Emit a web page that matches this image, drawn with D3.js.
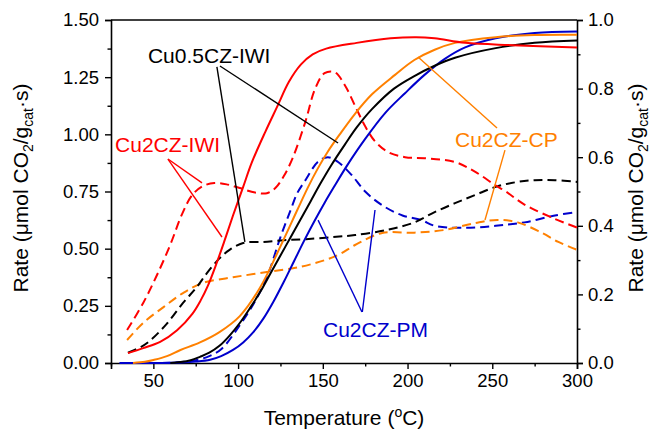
<!DOCTYPE html>
<html>
<head>
<meta charset="utf-8">
<script src="https://cdn.jsdelivr.net/npm/d3@7/dist/d3.min.js"></script>
<style>
  html, body { margin: 0; padding: 0; background: #fff; }
  svg { display: block; }
  text { font-family: "Liberation Sans", Arial, Helvetica, sans-serif; }
</style>
</head>
<body>
<svg id="chart" width="654" height="431"></svg>
<script>
// Temperature (°C) vs. rate; solid curves on the left axis, dashed curves on the right axis.

// Cu2CZ-IWI, solid (left axis, µmol CO2/gcat·s)
const cu2IwiSolid = [
  [35,0.043],[44,0.065],[54,0.092],[64,0.143],[73,0.215],[78,0.275],[82,0.335],[87,0.43],[92,0.535],
  [97,0.645],[103,0.77],[108,0.875],[116,1.01],[123,1.12],[130,1.23],[137,1.305],[144,1.35],
  [152,1.375],[170,1.40],[190,1.42],[205,1.425],[216,1.42],[234,1.40],[262,1.39],[300,1.38]
];
// Cu2CZ-IWI, dashed (right axis)
const cu2IwiDashed = [
  [34.5,0.096],[44,0.175],[52,0.255],[60,0.345],[67,0.435],[73,0.49],[79,0.515],[86,0.525],
  [94,0.52],[101,0.51],[110,0.497],[117,0.495],[122,0.51],[127,0.545],[132,0.595],[139.5,0.70],
  [145.5,0.80],[151,0.845],[157,0.848],[163,0.81],[169,0.75],[175,0.69],[181,0.645],[188.5,0.615],
  [198.5,0.60],[210,0.597],[228,0.586],[240,0.557],[251.6,0.519],[258,0.50],[269,0.462],[287,0.42],[300,0.395]
];
// Cu0.5CZ-IWI, solid (left axis)
const cu05IwiSolid = [
  [60,0],[66,0.004],[72,0.012],[77.5,0.027],[83,0.045],[89,0.075],[95,0.12],[101,0.175],[107,0.24],
  [113,0.31],[119,0.39],[125,0.47],[131,0.55],[137,0.63],[143,0.71],[149,0.79],[155,0.865],
  [163,0.955],[170,1.03],[179,1.11],[192,1.20],[204,1.255],[216,1.30],[228,1.335],[252,1.377],[275,1.40],[300,1.41]
];
// Cu0.5CZ-IWI, dashed (right axis)
const cu05IwiDashed = [
  [35,0.03],[42,0.045],[48,0.065],[58,0.115],[67.5,0.175],[75.7,0.222],[81.6,0.262],[89,0.305],
  [95,0.33],[103,0.35],[115,0.353],[127,0.358],[140,0.361],[156,0.367],[169,0.373],[188,0.388],
  [204,0.41],[216,0.44],[228,0.466],[240,0.49],[253,0.515],[265,0.528],[275,0.533],[287,0.533],[300,0.528]
];
// Cu2CZ-CP, solid (left axis)
const cu2CpSolid = [
  [38,0],[45,0.005],[50,0.013],[58,0.03],[66,0.057],[77.5,0.09],[89,0.135],[101,0.205],[113,0.33],
  [125,0.51],[135,0.67],[141,0.765],[147,0.85],[153,0.925],[160,1.0],[169,1.09],[179,1.175],
  [192.6,1.26],[204,1.325],[216,1.37],[228,1.40],[252,1.425],[275,1.434],[300,1.435]
];
// Cu2CZ-CP, dashed (right axis)
const cu2CpDashed = [
  [34.5,0.067],[44,0.117],[56,0.163],[67.5,0.204],[79,0.233],[97,0.25],[117,0.265],[136.5,0.28],
  [153,0.303],[161,0.32],[169,0.344],[185,0.379],[204,0.38],[222,0.388],[240,0.408],[253,0.417],
  [265,0.41],[279,0.38],[289,0.353],[300,0.33]
];
// Cu2CZ-PM, solid (left axis)
const cu2PmSolid = [
  [35,0],[55,0],[65,0.002],[75,0.006],[83.5,0.014],[90,0.03],[97,0.057],[103,0.09],[109,0.135],
  [115,0.195],[121,0.27],[127,0.355],[133,0.445],[139,0.535],[145,0.62],[151,0.70],[157,0.775],
  [164,0.86],[175,0.98],[187,1.095],[198.5,1.18],[210,1.26],[222,1.33],[234,1.38],[252,1.42],[275,1.443],[300,1.45]
];
// Cu2CZ-PM, dashed (right axis)
const cu2PmDashed = [
  [30,0],[50,0],[65,0.002],[75,0.008],[83,0.02],[90,0.04],[101,0.11],[110,0.18],[117,0.25],
  [125,0.367],[131,0.446],[135,0.496],[140,0.535],[147,0.586],[153,0.60],[159,0.586],[167,0.548],
  [175,0.50],[185,0.46],[197,0.43],[208,0.417],[216,0.40],[234,0.394],[252,0.40],[269,0.41],[287,0.43],[300,0.44]
];

const xTicks = [50, 100, 150, 200, 250, 300];
const xMinorTicks = [25, 75, 125, 175, 225, 275];
const yLeftTicks = [0, 0.25, 0.5, 0.75, 1.0, 1.25, 1.5];
const yLeftMinorTicks = [0.125, 0.375, 0.625, 0.875, 1.125, 1.375];
const yRightTicks = [0, 0.2, 0.4, 0.6, 0.8, 1.0];
const yRightMinorTicks = [0.1, 0.3, 0.5, 0.7, 0.9];

const colors = { red: "#ff0000", black: "#000000", orange: "#ff8000", blue: "#0000cc" };

const svg = d3.select("#chart");
const plotLeft = 111, plotRight = 577, plotTop = 20, plotBottom = 363;

const x = d3.scaleLinear().domain([25, 300]).range([plotLeft, plotRight]);
const yL = d3.scaleLinear().domain([0, 1.5]).range([plotBottom, plotTop]);
const yR = d3.scaleLinear().domain([0, 1.0]).range([plotBottom, plotTop]);

const tickFont = "18.5px";
const titleFont = "21px";

// Axes
function styleAxis(g) {
  g.selectAll(".domain").attr("stroke", "#000").attr("stroke-width", 1.6);
  g.selectAll(".tick line").attr("stroke", "#000").attr("stroke-width", 1.4);
  g.selectAll(".tick text").attr("fill", "#000").style("font-size", tickFont)
    .style("font-family", "'Liberation Sans', Arial, sans-serif");
}

svg.append("g").attr("transform", `translate(0,${plotBottom})`)
  .call(d3.axisBottom(x).tickValues(xTicks).tickSize(6).tickPadding(5).tickFormat(d3.format("d")))
  .call(styleAxis);
svg.append("g").attr("transform", `translate(0,${plotBottom})`)
  .call(d3.axisBottom(x).tickValues(xMinorTicks).tickSize(3.5).tickFormat(""))
  .call(g => g.select(".domain").remove()).call(styleAxis);

svg.append("g").attr("transform", `translate(${plotLeft},0)`)
  .call(d3.axisLeft(yL).tickValues(yLeftTicks).tickSize(6).tickPadding(6).tickFormat(d3.format(".2f")))
  .call(styleAxis);
svg.append("g").attr("transform", `translate(${plotLeft},0)`)
  .call(d3.axisLeft(yL).tickValues(yLeftMinorTicks).tickSize(3.5).tickFormat(""))
  .call(g => g.select(".domain").remove()).call(styleAxis);

svg.append("g").attr("transform", `translate(${plotRight},0)`)
  .call(d3.axisRight(yR).tickValues(yRightTicks).tickSize(6).tickPadding(5).tickFormat(d3.format(".1f")))
  .call(styleAxis);
svg.append("g").attr("transform", `translate(${plotRight},0)`)
  .call(d3.axisRight(yR).tickValues(yRightMinorTicks).tickSize(3.5).tickFormat(""))
  .call(g => g.select(".domain").remove()).call(styleAxis);

// top frame line
svg.append("line").attr("x1", plotLeft).attr("x2", plotRight).attr("y1", plotTop).attr("y2", plotTop)
  .attr("stroke", "#000").attr("stroke-width", 1.6);

// Curves
const smooth = d3.curveCatmullRom.alpha(0.5);
const lineL = d3.line().x(d => x(d[0])).y(d => yL(d[1])).curve(smooth);
const lineR = d3.line().x(d => x(d[0])).y(d => yR(d[1])).curve(smooth);

const curves = svg.append("g").attr("fill", "none").attr("stroke-width", 2);
const dashed = [
  [cu2PmDashed, colors.blue],
  [cu2CpDashed, colors.orange],
  [cu05IwiDashed, colors.black],
  [cu2IwiDashed, colors.red]
];
dashed.forEach(([data, c]) => {
  curves.append("path").attr("d", lineR(data)).attr("stroke", c)
    .attr("stroke-dasharray", "9,5");
});
const solid = [
  [cu2PmSolid, colors.blue],
  [cu2CpSolid, colors.orange],
  [cu05IwiSolid, colors.black],
  [cu2IwiSolid, colors.red]
];
solid.forEach(([data, c]) => {
  curves.append("path").attr("d", lineL(data)).attr("stroke", c);
});

// Labels with leader lines (positions in data units: temperature, left-axis rate or right-axis rate)
const notes = [
  { text: "Cu0.5CZ-IWI", color: colors.black, at: [46.8, 1.312],
    leaders: [
      { from: [89.3, 1.299], to: [159, 0.962], axis: "L" },
      { from: [87.5, 1.295], to: [104, 0.353], axis: "R" }
    ] },
  { text: "Cu2CZ-IWI", color: colors.red, at: [27.4, 0.923],
    leaders: [
      { from: [58.6, 0.892], to: [78.7, 0.525], axis: "R" },
      { from: [58.6, 0.892], to: [90.5, 0.551], axis: "L" }
    ] },
  { text: "Cu2CZ-CP", color: colors.orange, at: [228, 0.944],
    leaders: [
      { from: [252.8, 1.028], to: [206.2, 1.338], axis: "L" },
      { from: [257.5, 0.931], to: [245.7, 0.417], axis: "R" }
    ] },
  { text: "Cu2CZ-PM", color: colors.blue, at: [150.1, 0.114],
    leaders: [
      { from: [173.1, 0.223], to: [147.2, 0.625], axis: "L" },
      { from: [173.3, 0.223], to: [180.8, 0.446], axis: "R" }
    ] }
];
const ann = svg.append("g");
notes.forEach(n => {
  n.leaders.forEach(l => {
    const yEnd = l.axis === "L" ? yL(l.to[1]) : yR(l.to[1]);
    ann.append("line")
      .attr("x1", x(l.from[0])).attr("y1", yL(l.from[1]))
      .attr("x2", x(l.to[0])).attr("y2", yEnd)
      .attr("stroke", n.color).attr("stroke-width", 1.4);
  });
  ann.append("text").attr("x", x(n.at[0])).attr("y", yL(n.at[1]))
    .attr("fill", n.color).style("font-size", titleFont).text(n.text);
});

// Axis titles
const xt = svg.append("text").attr("x", (plotLeft + plotRight) / 2).attr("y", 425)
  .attr("text-anchor", "middle").style("font-size", titleFont).attr("fill", "#000");
xt.append("tspan").text("Temperature (");
xt.append("tspan").attr("dy", -8).style("font-size", "14px").text("o");
xt.append("tspan").attr("dy", 8).text("C)");

function rateTitle(g) {
  g.append("tspan").text("Rate (\u03bcmol CO");
  g.append("tspan").attr("dy", 5).style("font-size", "14px").text("2");
  g.append("tspan").attr("dy", -5).text("/g");
  g.append("tspan").attr("dy", 5).style("font-size", "14px").text("cat");
  g.append("tspan").attr("dy", -5).text("\u00b7s)");
}
svg.append("text").attr("transform", "translate(28,188) rotate(-90)")
  .attr("text-anchor", "middle").style("font-size", titleFont).attr("fill", "#000")
  .call(rateTitle);
svg.append("text").attr("transform", "translate(643,188) rotate(-90)")
  .attr("text-anchor", "middle").style("font-size", titleFont).attr("fill", "#000")
  .call(rateTitle);
</script>
</body>
</html>
